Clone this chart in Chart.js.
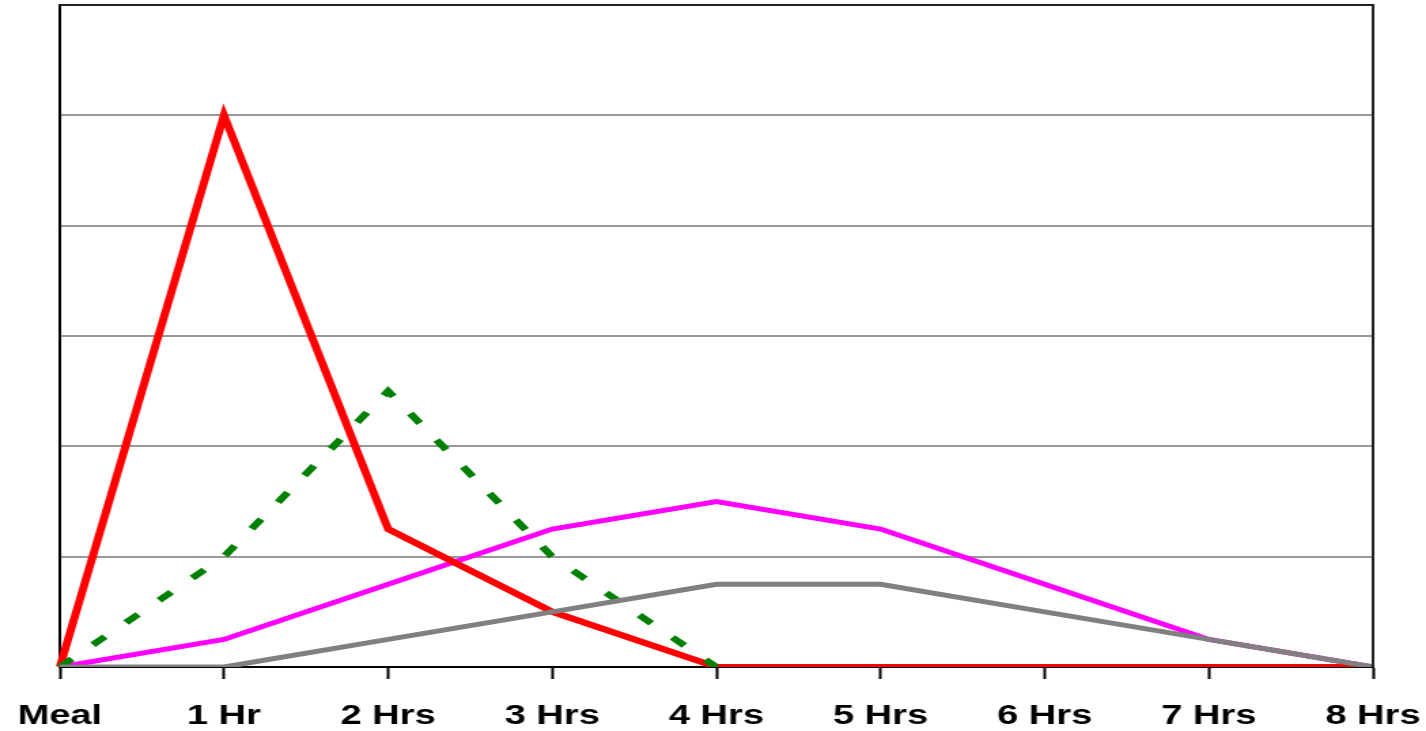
<!DOCTYPE html>
<html>
<head>
<meta charset="utf-8">
<script src="https://cdn.jsdelivr.net/npm/chart.js@4"></script>
<style>
  html, body { margin: 0; padding: 0; background: #fff; overflow: hidden; }
  .c-stretch { width: 1049px; height: 731px; transform: scaleX(1.3594); transform-origin: 0 0; }
</style>
</head>
<body>
<div class="c-stretch"><canvas class="js-chart"></canvas></div>
<script>
//#region ***  Data                                     ***********
const categories = ["Meal", "1 Hr", "2 Hrs", "3 Hrs", "4 Hrs", "5 Hrs", "6 Hrs", "7 Hrs", "8 Hrs"];
const redValues = [0, 5, 1.25, 0.5, 0, 0, 0, 0, 0];
const greenValues = [0, 1, 2.5, 1, 0, null, null, null, null];
const magentaValues = [0, 0.25, 0.75, 1.25, 1.5, 1.25, 0.75, 0.25, 0];
const grayValues = [0, 0, 0.25, 0.5, 0.75, 0.75, 0.5, 0.25, 0];
const yMin = 0;
const yMax = 6;
const yStep = 1;
//#endregion

//#region ***  Plugins                                  ***********
const frame = {
  id: "frame",
  afterDatasetsDraw: function (chart) {
    const a = chart.chartArea;
    const ctx = chart.ctx;
    ctx.save();
    ctx.strokeStyle = "#222";
    ctx.lineWidth = 2;
    ctx.beginPath();
    ctx.moveTo(a.left, a.top);
    ctx.lineTo(a.right, a.top);
    ctx.lineTo(a.right, a.bottom);
    ctx.stroke();
    ctx.restore();
  },
};
//#endregion

//#region ***  Init                                     ***********
const init = function () {
  const htmlChart = document.querySelector(".js-chart");
  const line = function (data, color, extra) {
    return Object.assign(
      { data: data, borderColor: color, backgroundColor: color, borderWidth: 5, pointRadius: 0, tension: 0, fill: false },
      extra || {}
    );
  };

  new Chart(htmlChart, {
    type: "line",
    data: {
      labels: categories,
      datasets: [
        line(grayValues, "#808080"),
        line(greenValues, "#008000", { borderDash: [12, 21], borderWidth: 6 }),
        line(redValues, "#ff0000", { borderWidth: 6 }),
        line(magentaValues, "#ff00ff"),
      ],
    },
    options: {
      responsive: true,
      maintainAspectRatio: false,
      animation: false,
      layout: { padding: { left: 0, right: 39, top: 5, bottom: 0 } },
      plugins: { legend: { display: false }, tooltip: { enabled: false } },
      scales: {
        x: {
          offset: false,
          afterFit: function (scale) {
            scale.height = 64;
            scale.paddingLeft = 0;
            scale.paddingRight = 0;
          },
          grid: { drawOnChartArea: false, drawTicks: true, tickLength: 12, tickWidth: 2, tickColor: "#000" },
          border: { display: true, color: "#000", width: 2 },
          ticks: {
            color: "#000",
            padding: 20,
            maxRotation: 0,
            autoSkip: false,
            font: { family: "'Liberation Sans', Arial, sans-serif", size: 28, weight: "bold" },
          },
        },
        y: {
          min: yMin,
          max: yMax,
          afterFit: function (scale) { scale.width = 44; },
          grid: { color: "#999", lineWidth: 2, drawTicks: false },
          border: { display: true, color: "#000", width: 2 },
          ticks: { display: false, stepSize: yStep },
        },
      },
    },
    plugins: [frame],
  });
};

document.addEventListener("DOMContentLoaded", init);
//#endregion
</script>
</body>
</html>
